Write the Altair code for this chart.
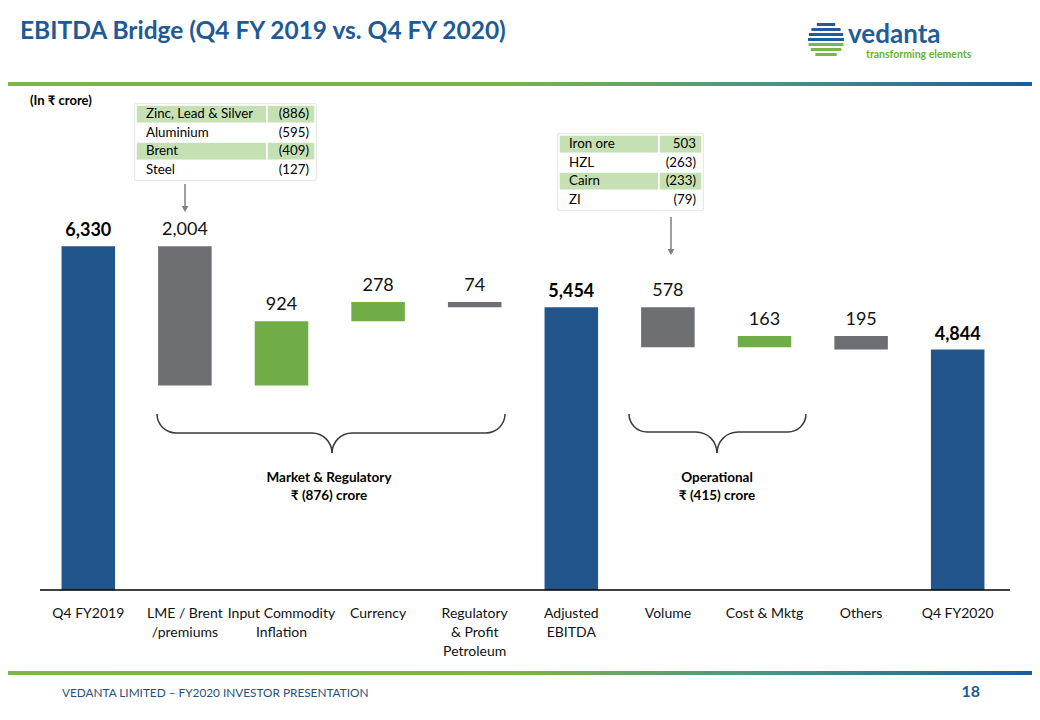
import math
import altair as alt
import pandas as pd

# ---------------- data ----------------
categories = ["Q4 FY2019", "LME / Brent\n/premiums", "Input Commodity\nInflation", "Currency",
              "Regulatory\n& Profit\nPetroleum", "Adjusted\nEBITDA", "Volume", "Cost & Mktg",
              "Others", "Q4 FY2020"]
amounts = [6330, -2004, 924, 278, -74, 5454, -578, 163, -195, 4844]
is_total = [True, False, False, False, False, True, False, False, False, True]

market_items = ["Zinc, Lead & Silver", "Aluminium", "Brent", "Steel"]
market_values = [-886, -595, -409, -127]
ops_items = ["Iron ore", "HZL", "Cairn", "ZI"]
ops_values = [503, -263, -233, -79]

group_texts = ["Market & Regulatory\n₹ (876)  crore", "Operational\n₹ (415) crore"]

TITLE = "EBITDA Bridge (Q4 FY 2019 vs. Q4 FY 2020)"
FOOTER = "VEDANTA  LIMITED – FY2020  INVESTOR PRESENTATION"
PAGE_NO = "18"
UNIT = "(In ₹ crore)"

# ---------------- styling ----------------
FONT = "Lato"
BLUE = "#22558B"
GREY = "#6D6E71"
GREEN = "#70AD47"
TITLE_BLUE = "#1F5A96"
Y_MIN = 1381
Y_MAX = 9878
W, H = 1024, 704


def px(v):
    return v - 8


# ---------------- waterfall table ----------------
rows = []
running = 0
for c, a, t in zip(categories, amounts, is_total):
    if t:
        lo, hi = Y_MIN, a
        running = a
        kind = "total"
    else:
        start, end = running, running + a
        running = end
        lo, hi = min(start, end), max(start, end)
        kind = "pos" if a > 0 else "neg"
    rows.append(dict(cat=c, lo=lo, hi=hi, kind=kind, lbl=f"{abs(a):,}", total=t))
wf = pd.DataFrame(rows)

xscale = alt.Scale(domain=categories, range=[px(40), px(1006)], paddingInner=0.446, paddingOuter=0.223)
yscale = alt.Scale(domain=[Y_MIN, Y_MAX], range=[px(590), px(0)], zero=False, nice=False)
cscale = alt.Scale(domain=["total", "neg", "pos"], range=[BLUE, GREY, GREEN])

base = alt.Chart(wf)
bars = base.mark_bar().encode(
    x=alt.X("cat:N", scale=xscale, sort=None, axis=None),
    y=alt.Y("hi:Q", scale=yscale, axis=None),
    y2="lo:Q",
    color=alt.Color("kind:N", scale=cscale, legend=None),
)
vals_bold = base.transform_filter("datum.total").mark_text(
    font=FONT, fontSize=18, fontWeight="bold", baseline="bottom", dy=-6, color="#000000"
).encode(x=alt.X("cat:N", scale=xscale, sort=None, axis=None),
         y=alt.Y("hi:Q", scale=yscale, axis=None), text="lbl:N")
vals_norm = base.transform_filter("!datum.total").mark_text(
    font=FONT, fontSize=18, baseline="bottom", dy=-7, color="#111111"
).encode(x=alt.X("cat:N", scale=xscale, sort=None, axis=None),
         y=alt.Y("hi:Q", scale=yscale, axis=None), text="lbl:N")
cat_labels = base.mark_text(
    font=FONT, fontSize=14, baseline="top", lineBreak="\n", lineHeight=19, color="#111111"
).encode(x=alt.X("cat:N", scale=xscale, sort=None, axis=None),
         y=alt.value(px(607)), text="cat:N")

layers = [bars, vals_bold, vals_norm, cat_labels]

# baseline
layers.append(alt.Chart(pd.DataFrame({"a": [0]})).mark_rule(color="#000000", strokeWidth=1.5).encode(
    x=alt.value(px(40)), x2=alt.value(px(1010)), y=alt.value(px(590))))


def text(t, x, y, **kw):
    props = dict(font=FONT, color="#000000")
    props.update(kw)
    return alt.Chart(pd.DataFrame({"t": [t]})).mark_text(**props).encode(
        text="t:N", x=alt.value(px(x)), y=alt.value(px(y)))


# header / footer
grad = alt.LinearGradient(
    gradient="linear",
    stops=[alt.GradientStop(offset=0, color="#7AB648"),
           alt.GradientStop(offset=0.5, color="#78B44A"),
           alt.GradientStop(offset=0.75, color="#4A9285"),
           alt.GradientStop(offset=1, color="#1F5A9A")],
    x1=0, x2=1, y1=0, y2=0)
for yy in (82, 671):
    layers.append(alt.Chart(pd.DataFrame({"a": [0]})).mark_rect(color=grad).encode(
        x=alt.value(0), x2=alt.value(W), y=alt.value(px(yy)), y2=alt.value(px(yy + 4))))

layers.append(text(TITLE, 20, 32, fontSize=24.5, fontWeight="bold", color=TITLE_BLUE,
                   align="left", baseline="middle"))
layers.append(text(UNIT, 30, 101, fontSize=13, fontWeight="bold", align="left", baseline="middle"))
layers.append(text(FOOTER, 62, 693, fontSize=11.8, color="#24517F", align="left", baseline="middle"))
layers.append(text(PAGE_NO, 980, 692, fontSize=16, fontWeight="bold", color=TITLE_BLUE,
                   align="right", baseline="middle"))

# logo
layers.append(text("vedanta", 848, 35, fontSize=26, fontWeight="bold", color="#1F5C99",
                   align="left", baseline="middle"))
layers.append(text("transforming elements", 866, 55, fontSize=10.5, fontWeight="bold", color="#6AAF3D",
                   align="left", baseline="middle"))
logo_rows = []
lcx, lcy, lr = 826, 40, 18
for i in range(7):
    yy = 23 + i * 5
    dy = yy + 1.5 - lcy
    half = math.sqrt(max(lr * lr - dy * dy, 0))
    logo_rows.append(dict(x0=px(lcx - half), x1=px(lcx + half), y0=px(yy), y1=px(yy + 3),
                          c="#1F5C99" if i < 4 else "#7AB648"))
layers.append(alt.Chart(pd.DataFrame(logo_rows)).mark_rect().encode(
    x=alt.X("x0:Q", scale=None), x2="x1:Q", y=alt.Y("y0:Q", scale=None), y2="y1:Q",
    color=alt.Color("c:N", scale=None)))


# tables
def table(items, values, left, top, split, right, rowh):
    recs = []
    for i, (it, v) in enumerate(zip(items, values)):
        fill = "#C5E0B3" if i % 2 == 0 else "#FFFFFF"
        s = f"({abs(v)})" if v < 0 else f"{v}"
        recs.append(dict(lab=it, val=s, fill=fill,
                         y0=px(top + i * rowh), y1=px(top + (i + 1) * rowh),
                         ym=px(top + (i + 0.5) * rowh),
                         xl=px(left), xs=px(split), xr=px(right),
                         xt=px(left + 10), xv=px(right - 6)))
    df = pd.DataFrame(recs)
    tb = alt.Chart(df)
    out = [
        alt.Chart(pd.DataFrame({"a": [0]})).mark_rect(fill="#FFFFFF", stroke="#D4D4D4", strokeWidth=1).encode(
            x=alt.value(px(left - 1)), x2=alt.value(px(right + 1)),
            y=alt.value(px(top - 1)), y2=alt.value(px(top + len(items) * rowh + 1))),
        tb.mark_rect(stroke="#FFFFFF", strokeWidth=1.5).encode(
            x=alt.X("xl:Q", scale=None), x2="xs:Q", y=alt.Y("y0:Q", scale=None), y2="y1:Q",
            fill=alt.Fill("fill:N", scale=None)),
        tb.mark_rect(stroke="#FFFFFF", strokeWidth=1.5).encode(
            x=alt.X("xs:Q", scale=None), x2="xr:Q", y=alt.Y("y0:Q", scale=None), y2="y1:Q",
            fill=alt.Fill("fill:N", scale=None)),
        tb.mark_text(font=FONT, fontSize=13.3, align="left", baseline="middle", color="#000000").encode(
            x=alt.X("xt:Q", scale=None), y=alt.Y("ym:Q", scale=None), text="lab:N"),
        tb.mark_text(font=FONT, fontSize=13.3, align="right", baseline="middle", color="#000000").encode(
            x=alt.X("xv:Q", scale=None), y=alt.Y("ym:Q", scale=None), text="val:N"),
    ]
    return out


layers += table(market_items, market_values, 136, 105, 267, 315, 18.5)
layers += table(ops_items, ops_values, 559, 135, 659, 702, 18.5)

# arrows
ARROW = "#7F7F7F"
for ax, y0, y1 in ((185, 184, 207), (671, 217, 250)):
    layers.append(alt.Chart(pd.DataFrame({"a": [0]})).mark_rule(color=ARROW, strokeWidth=1.5).encode(
        x=alt.value(px(ax)), y=alt.value(px(y0)), y2=alt.value(px(y1))))
    layers.append(alt.Chart(pd.DataFrame({"a": [0]})).mark_point(
        shape="triangle-down", filled=True, color=ARROW, size=45, opacity=1).encode(
        x=alt.value(px(ax)), y=alt.value(px(y1 + 2))))

# braces
BR = "#3A3A3A"
SW = 1.5


def arc(cx, cy, r, t0, t1):
    return alt.Chart(pd.DataFrame({"a": [0]})).mark_arc(
        radius=r + SW / 2, radius2=r - SW / 2, theta=t0, theta2=t1, color=BR).encode(
        x=alt.value(px(cx)), y=alt.value(px(cy)))


def hline(x0, x1, y):
    return alt.Chart(pd.DataFrame({"a": [0]})).mark_rule(color=BR, strokeWidth=SW).encode(
        x=alt.value(px(x0)), x2=alt.value(px(x1)), y=alt.value(px(y)))


def brace(x0, x1, xm, ytop, ymid, ybot):
    r = ymid - ytop
    rm = ybot - ymid
    return [
        arc(x0 + r, ytop, r, math.pi, 1.5 * math.pi),
        hline(x0 + r, xm - rm, ymid),
        arc(xm - rm, ybot, rm, 0, 0.5 * math.pi),
        arc(xm + rm, ybot, rm, 1.5 * math.pi, 2 * math.pi),
        hline(xm + rm, x1 - r, ymid),
        arc(x1 - r, ytop, r, 0.5 * math.pi, math.pi),
    ]


layers += brace(157, 505, 332, 414, 433, 453)
layers += brace(629, 806, 717, 414, 432, 453)

layers.append(text(group_texts[0], 329, 471, fontSize=13.5, fontWeight="bold", lineBreak="\n",
                   lineHeight=18, baseline="top"))
layers.append(text(group_texts[1], 717, 471, fontSize=13.5, fontWeight="bold", lineBreak="\n",
                   lineHeight=18, baseline="top"))

chart = alt.layer(*layers).resolve_scale(x="independent", y="independent", color="independent").properties(
    width=W, height=H, padding=0, autosize=alt.AutoSizeParams(type="none"),
    background="#FFFFFF",
).configure_view(stroke=None)

chart.save("out.html", embed_options={"renderer": "svg", "actions": False})
